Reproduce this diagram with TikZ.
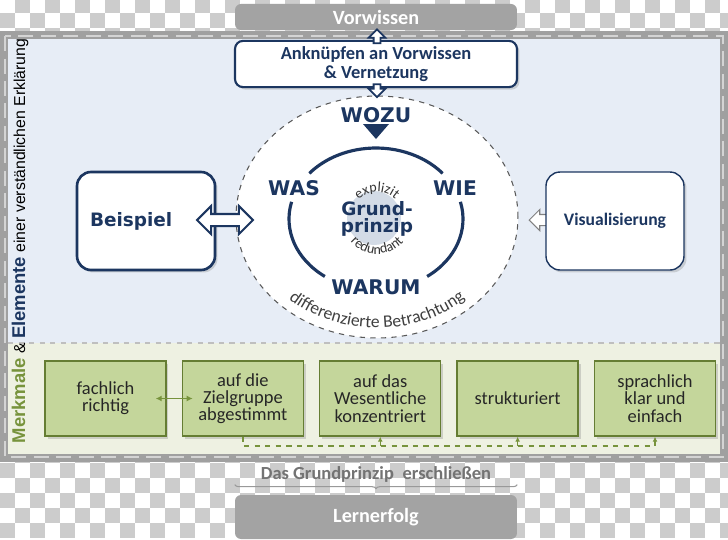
\documentclass[tikz,border=0pt]{standalone}
\usepackage{fontspec}
\setmainfont{Carlito}
\newfontfamily\heavyfont{DejaVu Sans}
\newfontfamily\arialfont{Liberation Sans}
\usetikzlibrary{positioning,shapes.geometric,shapes.arrows,shadows,arrows.meta}
\usetikzlibrary{decorations.text,decorations.pathreplacing}

\definecolor{inknavy}{RGB}{28,54,96}
\definecolor{leafgreen}{RGB}{119,147,60}
\definecolor{boxgreen}{RGB}{196,214,155}
\definecolor{panelblue}{RGB}{231,237,246}
\definecolor{panelgreen}{RGB}{238,241,226}
\definecolor{framegray}{RGB}{160,160,160}
\definecolor{tilegray}{RGB}{204,204,204}
\definecolor{capgray}{RGB}{163,163,163}
\definecolor{hubblue}{RGB}{211,219,230}

\tikzset{
  softshadow/.style={drop shadow={shadow xshift=0.05cm, shadow yshift=-0.05cm, opacity=0.3}},
}

\begin{document}
\begin{tikzpicture}[x=0.02cm, y=0.02cm,
    capbox/.style={rectangle, rounded corners=0.12cm, fill=capgray, text=white,
      font=\bfseries\fontsize{11.5}{13}\selectfont, minimum width=5.64cm},
    whitebox/.style={rectangle, rounded corners=0.28cm, fill=white, draw=inknavy, softshadow},
    meritbox/.style={rectangle, fill=boxgreen, draw=leafgreen!85!black, line width=0.8pt,
      minimum width=2.42cm, minimum height=1.5cm, align=center, text=black!85,
      font=\fontsize{10.5}{9.8}\selectfont, softshadow},
    quest/.style={text=inknavy, font=\heavyfont\bfseries\fontsize{11.5}{13}\selectfont},
    hollow/.style={draw=inknavy, fill=white, line width=1pt},
    ringline/.style={inknavy, line width=1.8pt},
    fbline/.style={leafgreen, dashed, line width=0.8pt},
    fbtip/.style={-{Latex[length=0.1cm,width=0.1cm]}},
  ]
  \useasboundingbox (0,0) rectangle (728,-539);

  % transparent background tiles
  \fill[white] (0,0) rectangle (728,-539);
  \begin{scope}
    \clip (0,0) rectangle (728,-539);
    \foreach \r in {0,1,2,30,31,32,33,34,35} {
      \foreach \c in {0,...,48} {
        \pgfmathtruncatemacro\tile{mod(\r+\c,2)}
        \ifnum\tile=1 \fill[tilegray] (15*\c,2-15*\r) rectangle ++(15,-15); \fi
      }
    }
  \end{scope}

  % panels and frame
  \fill[panelblue] (4,-35) rectangle (724,-343);
  \fill[panelgreen] (4,-343) rectangle (724,-458);
  \draw[black!25, dashed, line width=0.6pt] (8,-343) -- (720,-343);
  \draw[framegray, line width=0.16cm] (4,-35) rectangle (724,-458);
  \draw[white!55!framegray, dash pattern=on 0.3cm off 0.15cm, line width=0.03cm] (5,-36) rectangle (723,-457);

  \node[rotate=90, font=\arialfont\fontsize{9}{11}\selectfont] (sidelabel) at (20,-241)
    {{\color{leafgreen}\bfseries\fontsize{10.5}{12}\selectfont Merkmale} \& {\color{inknavy}\bfseries\fontsize{10.5}{12}\selectfont Elemente} einer verständlichen Erklärung};

  % top: Vorwissen
  \node[capbox, minimum height=0.46cm] (prior) at (376,-17) {Vorwissen};
  \node[whitebox, line width=1.2pt, rounded corners=0.16cm, minimum width=5.64cm, minimum height=0.76cm,
    align=center, text=inknavy, font=\bfseries\fontsize{10.5}{10.5}\selectfont] (link) at (376,-64)
    {Anknüpfen an Vorwissen\\\& Vernetzung};
  \node[single arrow, hollow, shape border rotate=90, minimum height=0.28cm, inner sep=0.05cm,
    single arrow head extend=0.1cm] (uparrow) at (377,-38) {};

  % core ellipse
  \node[ellipse, draw=black!65, dashed, fill=white, line width=0.6pt,
    minimum width=5.64cm, minimum height=4.84cm] (core) at (377,-217) {};
  \node[single arrow, hollow, shape border rotate=270, minimum height=0.26cm, inner sep=0.05cm,
    single arrow head extend=0.1cm] (downarrow) at (377,-89) {};

  \coordinate (ring) at (376,-219);
  \draw[ringline] ([shift={(40:87 and 71)}]ring) arc[start angle=40, end angle=140, x radius=87, y radius=71];
  \draw[ringline] ([shift={(166:87 and 71)}]ring) arc[start angle=166, end angle=234, x radius=87, y radius=71];
  \draw[ringline] ([shift={(-54:87 and 71)}]ring) arc[start angle=-54, end angle=14, x radius=87, y radius=71];

  \node[quest] (wozu) at (376,-115) {WOZU};
  \fill[inknavy] (363,-124) -- (389,-124) -- (376,-139) -- cycle;
  \node[quest] (was) at (294,-188) {WAS};
  \node[quest] (wie) at (455,-188) {WIE};
  \node[quest] (warum) at (376,-287) {WARUM};

  \node[circle, fill=hubblue, minimum size=1.08cm, inner sep=0pt] (hub) at (374,-218) {};
  \node[align=center, text=inknavy, font=\heavyfont\bfseries\fontsize{10.5}{9.8}\selectfont] (principle) at (377,-219) {Grund-\\prinzip};
  \path[decorate, decoration={text along path, text align=center,
      text={|\fontsize{8}{9}\selectfont\color{black!80}|explizit}}]
    ([shift={(165:27)}]principle.center) arc[start angle=165, end angle=15, radius=27];
  \path[decorate, decoration={text along path, text align=center,
      text={|\fontsize{8}{9}\selectfont\color{black!80}|redundant}}]
    ([shift={(200:35)}]principle.center) arc[start angle=200, end angle=340, radius=35];
  \path[decorate, decoration={text along path, text align=center,
      text={|\fontsize{10}{12}\selectfont\color{black!75}|differenzierte Betrachtung}}]
    ([shift={(215:131 and 111)}]core.center) arc[start angle=215, end angle=325, x radius=131, y radius=111];

  % side boxes
  \node[whitebox, line width=1.5pt, minimum height=1.96cm, text width=2.24cm, inner xsep=0.26cm,
    align=left, text=inknavy, font=\heavyfont\bfseries\fontsize{10.5}{12}\selectfont] (example) at (146,-221) {Beispiel};
  \node[double arrow, hollow, line width=1.2pt, minimum height=1.12cm, inner sep=0.1cm,
    double arrow head extend=0.16cm] (exarrow) at (225,-220) {};
  \node[single arrow, draw=black!50, fill=white, line width=0.6pt, shape border rotate=180,
    minimum height=0.36cm, inner sep=0.1cm, single arrow head extend=0.1cm] (visarrow) at (541,-220) {};
  \node[whitebox, line width=0.8pt, minimum width=2.76cm, minimum height=1.96cm, text=inknavy,
    font=\bfseries\fontsize{10}{12}\selectfont] (visual) at (615,-221) {Visualisierung};

  % Merkmale
  \node[meritbox] (fach) at (105.5,-398.5) {fachlich\\richtig};
  \node[meritbox, right=0.3cm of fach] (ziel) {auf die\\Zielgruppe\\abgestimmt};
  \node[meritbox, right=0.3cm of ziel] (wes) {auf das\\Wesentliche\\konzentriert};
  \node[meritbox, right=0.3cm of wes] (struk) {strukturiert};
  \node[meritbox, right=0.3cm of struk] (einf) {sprachlich\\klar und\\einfach};

  \draw[leafgreen, line width=0.9pt, {Latex[length=0.12cm,width=0.12cm]}-{Latex[length=0.12cm,width=0.12cm]}]
    ([xshift=-0.22cm]fach.east) -- ([xshift=0.22cm]ziel.west);
  \coordinate (fb) at (0,-446);
  \draw[fbline, fbtip] (ziel.south) -- (ziel.south |- fb) -| (einf.south);
  \draw[fbline, fbtip] (wes.south |- fb) -- (wes.south);
  \draw[fbline, fbtip] (struk.south |- fb) -- (struk.south);

  % bottom: Lernerfolg
  \node[capbox, minimum height=0.88cm] (gain) at (376,-517) {Lernerfolg};
  \node[text=black!55, font=\bfseries\fontsize{10.5}{12}\selectfont] (unlock) at (376,-474)
    {Das Grundprinzip\hspace{0.25em} erschließen};
  \draw[black!40, line width=0.6pt, decorate, decoration={brace, amplitude=0.08cm}]
    ([yshift=0.2cm]gain.north east) -- ([yshift=0.2cm]gain.north west);
\end{tikzpicture}
\end{document}
